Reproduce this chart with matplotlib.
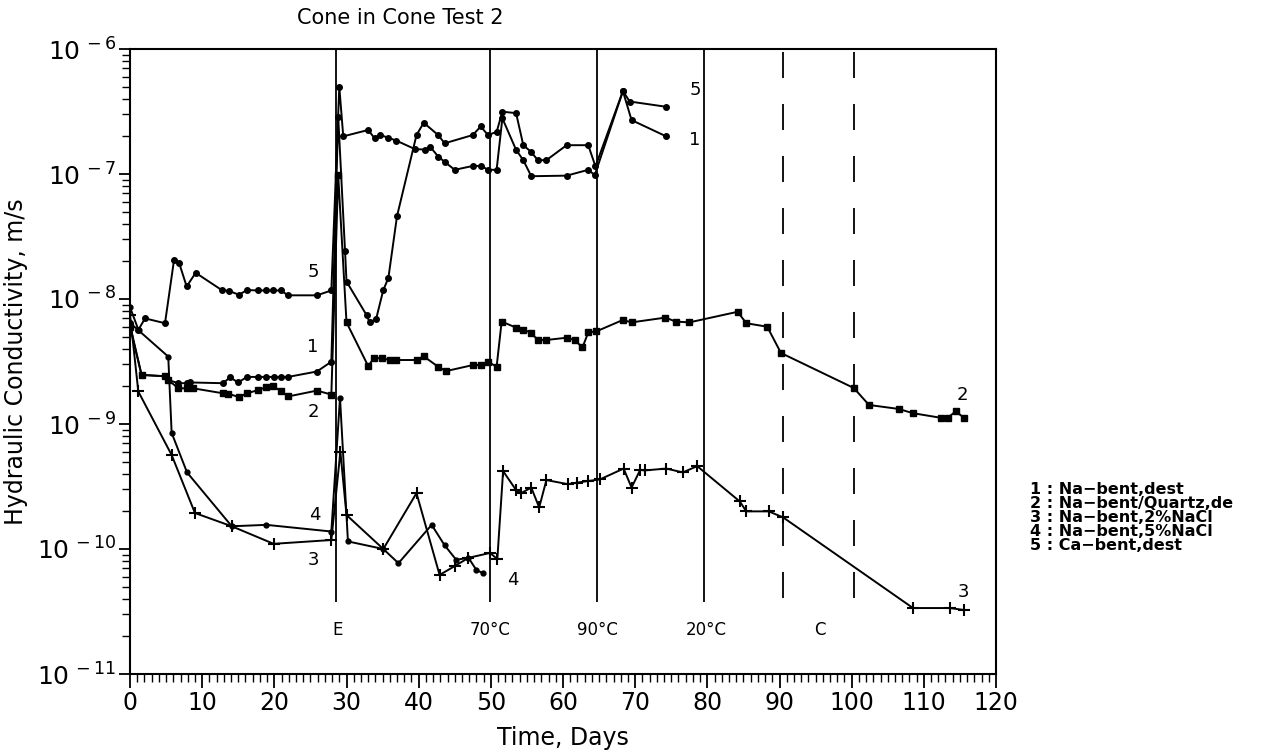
import matplotlib
matplotlib.use("Agg")
import matplotlib.pyplot as plt
from matplotlib.ticker import MultipleLocator, LogLocator, NullFormatter

# ---- data ----
days1 = [0, 1.6, 4.85, 5.3, 6.7, 7.85, 8.3, 12.9, 13.85, 15.0, 16.2, 17.8, 18.9, 20.0, 20.9, 21.9,
         25.9, 27.9, 28.85, 29.8, 30.0, 32.8, 33.2, 34.1, 35.1, 35.8, 37.0, 39.7, 40.7, 42.7, 43.6,
         47.5, 48.6, 49.6, 50.8, 51.6, 53.5, 54.5, 55.6, 56.5, 57.7, 60.5, 63.5, 64.5, 68.3, 69.5, 74.3]
k1 = [6.2e-9, 2.47e-9, 2.41e-9, 2.25e-9, 2.12e-9, 2.12e-9, 2.15e-9, 2.12e-9, 2.36e-9, 2.15e-9, 2.38e-9,
      2.38e-9, 2.38e-9, 2.38e-9, 2.38e-9, 2.38e-9, 2.63e-9, 3.15e-9, 2.87e-7, 2.4e-8, 1.38e-8, 7.4e-9,
      6.5e-9, 6.9e-9, 1.18e-8, 1.47e-8, 4.6e-8, 2.05e-7, 2.57e-7, 2.05e-7, 1.76e-7, 2.05e-7, 2.4e-7,
      2.05e-7, 2.17e-7, 3.15e-7, 3.07e-7, 1.7e-7, 1.5e-7, 1.29e-7, 1.29e-7, 1.7e-7, 1.7e-7, 1.15e-7,
      4.6e-7, 2.7e-7, 2.0e-7]

days2 = [0, 1.6, 4.85, 5.3, 6.7, 7.85, 8.75, 12.9, 13.6, 15.1, 16.2, 17.8, 18.9, 19.85, 20.9, 21.9,
         25.9, 27.9, 28.85, 30.0, 33.0, 33.8, 34.85, 36.0, 36.9, 39.7, 40.7, 42.7, 43.8, 47.5, 48.7,
         49.6, 50.8, 51.5, 53.5, 54.5, 55.6, 56.5, 57.7, 60.5, 61.6, 62.7, 63.5, 64.6, 68.3, 69.5,
         74.2, 75.6, 77.5, 84.2, 85.4, 88.3, 90.2, 100.3, 102.4, 106.5, 108.5, 112.4, 113.3, 114.4, 115.6]
k2 = [6.0e-9, 2.47e-9, 2.41e-9, 2.25e-9, 1.93e-9, 1.93e-9, 1.93e-9, 1.76e-9, 1.75e-9, 1.64e-9, 1.76e-9,
      1.87e-9, 1.97e-9, 2.0e-9, 1.84e-9, 1.66e-9, 1.85e-9, 1.72e-9, 9.8e-8, 6.5e-9, 2.91e-9, 3.36e-9,
      3.36e-9, 3.25e-9, 3.25e-9, 3.25e-9, 3.48e-9, 2.87e-9, 2.65e-9, 2.96e-9, 2.96e-9, 3.16e-9, 2.87e-9,
      6.6e-9, 5.9e-9, 5.7e-9, 5.35e-9, 4.7e-9, 4.7e-9, 4.9e-9, 4.7e-9, 4.1e-9, 5.4e-9, 5.5e-9, 6.8e-9,
      6.5e-9, 7.1e-9, 6.6e-9, 6.5e-9, 7.9e-9, 6.4e-9, 6.0e-9, 3.7e-9, 1.94e-9, 1.42e-9, 1.32e-9,
      1.22e-9, 1.12e-9, 1.12e-9, 1.26e-9, 1.12e-9]

days3 = [0, 1.15, 5.77, 9.0, 14.1, 19.9, 27.9, 29.15, 30.0, 35.1, 39.7, 42.9, 45.0, 46.9, 49.9, 50.9,
         51.7, 53.5, 54.2, 55.6, 56.7, 57.7, 60.7, 62.0, 63.5, 65.1, 68.4, 69.5, 70.7, 71.3, 74.3, 76.6,
         78.6, 84.5, 85.4, 88.5, 90.5, 108.5, 113.6, 115.6]
k3 = [7.5e-9, 1.82e-9, 5.65e-10, 1.94e-10, 1.52e-10, 1.1e-10, 1.18e-10, 6.0e-10, 1.87e-10, 1.0e-10,
      2.8e-10, 6.2e-11, 7.3e-11, 8.5e-11, 9.3e-11, 8.3e-11, 4.2e-10, 2.96e-10, 2.8e-10, 3.1e-10, 2.15e-10,
      3.56e-10, 3.3e-10, 3.4e-10, 3.5e-10, 3.6e-10, 4.4e-10, 3.1e-10, 4.3e-10, 4.25e-10, 4.4e-10, 4.1e-10,
      4.6e-10, 2.4e-10, 2.0e-10, 2.0e-10, 1.79e-10, 3.37e-11, 3.37e-11, 3.25e-11]

days4 = [0, 1.2, 5.3, 5.77, 7.9, 14.1, 18.9, 27.9, 29.1, 30.2, 35.1, 37.2, 41.8, 43.6, 45.2, 46.9, 48.0, 48.9]
k4 = [8.6e-9, 5.6e-9, 3.46e-9, 8.5e-10, 4.1e-10, 1.52e-10, 1.56e-10, 1.38e-10, 1.62e-9, 1.15e-10,
      1.0e-10, 7.7e-11, 1.56e-10, 1.07e-10, 8.2e-11, 8.5e-11, 6.8e-11, 6.4e-11]

days5 = [0, 1.15, 2.08, 4.85, 6.1, 6.8, 7.85, 9.1, 12.7, 13.75, 15.1, 16.2, 17.8, 18.9, 19.85, 20.9,
         21.9, 25.9, 27.9, 29.0, 29.55, 33.0, 33.9, 34.7, 35.8, 36.9, 39.5, 40.9, 41.6, 42.7, 43.6, 45.0,
         47.5, 48.7, 49.6, 50.8, 51.6, 53.5, 54.5, 55.6, 60.5, 63.5, 64.4, 68.3, 69.25, 74.3]
k5 = [6.4e-9, 5.65e-9, 7.0e-9, 6.4e-9, 2.05e-8, 1.95e-8, 1.26e-8, 1.62e-8, 1.18e-8, 1.16e-8, 1.08e-8,
      1.18e-8, 1.17e-8, 1.17e-8, 1.17e-8, 1.17e-8, 1.07e-8, 1.07e-8, 1.17e-8, 5.0e-7, 2.0e-7, 2.25e-7,
      1.93e-7, 2.05e-7, 1.95e-7, 1.85e-7, 1.58e-7, 1.57e-7, 1.65e-7, 1.38e-7, 1.25e-7, 1.08e-7, 1.16e-7,
      1.16e-7, 1.08e-7, 1.08e-7, 2.79e-7, 1.56e-7, 1.29e-7, 9.6e-8, 9.7e-8, 1.08e-7, 9.8e-8, 4.6e-7,
      3.8e-7, 3.45e-7]

solid_lines = [28.6, 49.9, 64.7, 79.6]
dashed_lines = [90.5, 100.3]
phase_labels = ["E", "70°C", "90°C", "20°C", "C"]
phase_days = [28.7, 49.9, 64.8, 79.8, 95.6]

curve_labels = ["5", "1", "2", "4", "3", "5", "1", "2", "3", "4"]
curve_label_days = [25.4, 25.3, 25.4, 25.6, 25.4, 78.3, 78.3, 115.4, 115.5, 53.0]
curve_label_k = [1.64e-8, 4.13e-9, 1.25e-9, 1.87e-10, 8.2e-11, 4.7e-7, 1.87e-7, 1.7e-9, 4.5e-11, 5.65e-11]

legend_lines = ["1 : Na\u2212bent,dest", "2 : Na\u2212bent/Quartz,de", "3 : Na\u2212bent,2%NaCl",
                "4 : Na\u2212bent,5%NaCl", "5 : Ca\u2212bent,dest"]

# ---- figure ----
W, H = 1273, 751
fig = plt.figure(figsize=(W / 100, H / 100), dpi=100)
ax = fig.add_axes([130 / W, 1 - 674 / H, (996 - 130) / W, (674 - 49) / H])
ax.set_yscale("log")
ax.set_xlim(0, 120)
ax.set_ylim(1e-11, 1e-6)

lw = 1.4
ax.plot(days1, k1, color="black", lw=lw, marker="o", ms=4)
ax.plot(days2, k2, color="black", lw=lw, marker="s", ms=4)
ax.plot(days3, k3, color="black", lw=lw, marker="+", ms=9, mew=1.5)
ax.plot(days4, k4, color="black", lw=lw, marker="o", ms=3.5)
ax.plot(days5, k5, color="black", lw=lw, marker="o", ms=4)

ax.vlines(solid_lines, 3.8e-11, 1e-6, colors="black", lw=1.3)
ax.vlines(dashed_lines, 4.06e-11, 1e-6, colors="black", lw=1.3, linestyles=(0, (14.4, 14.4)))

for lab, d in zip(phase_labels, phase_days):
    ax.text(d, 2.25e-11, lab, ha="center", va="center", fontsize=12)

for lab, d, k in zip(curve_labels, curve_label_days, curve_label_k):
    ax.text(d, k, lab, ha="center", va="center", fontsize=13)

# ticks
ax.xaxis.set_major_locator(MultipleLocator(10))
ax.xaxis.set_minor_locator(MultipleLocator(1))
ax.yaxis.set_minor_locator(LogLocator(base=10, subs=[2, 3, 4, 5, 6, 7, 8, 9]))
ax.yaxis.set_minor_formatter(NullFormatter())
ax.set_yticks([1e-11, 1e-10, 1e-9, 1e-8, 1e-7, 1e-6])
ax.set_yticklabels([r"$10^{\,-11}$", r"$10^{\,-10}$", r"$10^{\,-9}$", r"$10^{\,-8}$",
                    r"$10^{\,-7}$", r"$10^{\,-6}$"], fontsize=18)
ax.tick_params(axis="x", which="major", direction="out", length=10, width=1.3, labelsize=17, pad=2)
ax.tick_params(axis="x", which="minor", direction="out", length=6, width=1.0)
ax.tick_params(axis="y", which="major", direction="out", length=8, width=1.3, pad=2)
ax.tick_params(axis="y", which="minor", direction="out", length=6, width=1.0)
for s in ax.spines.values():
    s.set_linewidth(1.5)

ax.set_xlabel("Time, Days", fontsize=17, labelpad=8)
ax.set_ylabel("Hydraulic Conductivity, m/s", fontsize=17, labelpad=6)

fig.text(400 / W, 1 - 18 / H, "Cone in Cone Test 2", ha="center", va="center", fontsize=15)

for i, line in enumerate(legend_lines):
    fig.text(1030 / W, 1 - (489 + 14 * i) / H, line, ha="left", va="center",
             fontsize=11.5, fontweight="bold")

fig.savefig("out.png", dpi=100)
